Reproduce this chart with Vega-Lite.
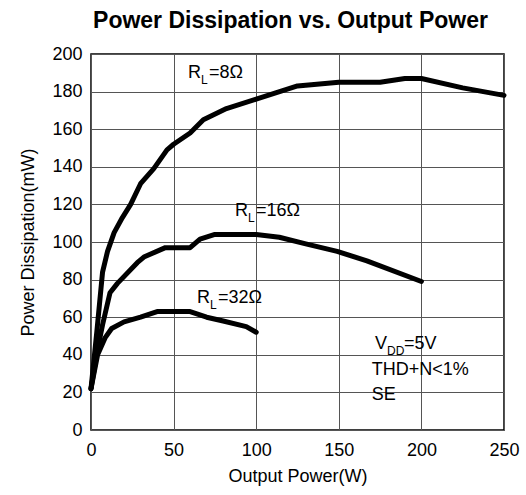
{
  "$schema": "https://vega.github.io/schema/vega-lite/v6.json",
  "width": 413,
  "height": 376,
  "autosize": {"type": "none"},
  "padding": {"left": 91, "top": 54, "right": 22, "bottom": 65},
  "title": {"text": "Power Dissipation vs. Output Power", "font": "Liberation Sans", "fontSize": 23, "fontWeight": "bold", "color": "black", "anchor": "middle", "dx": -7, "offset": 12},
  "config": {
    "view": {"stroke": "black", "strokeWidth": 1.5},
    "axis": {"labelFont": "Liberation Sans", "titleFont": "Liberation Sans", "labelFontSize": 18, "titleFontSize": 18, "titleFontWeight": "normal", "labelColor": "black", "titleColor": "black", "gridColor": "#555555", "domain": false, "ticks": false, "labelFlush": false, "labelOverlap": false, "labelBound": false}
  },
  "datasets": {
    "curves": [
      {"load": "8", "x": 0, "y": 22}, {"load": "8", "x": 3.5, "y": 52}, {"load": "8", "x": 7, "y": 84}, {"load": "8", "x": 10, "y": 95}, {"load": "8", "x": 14, "y": 105}, {"load": "8", "x": 19, "y": 113}, {"load": "8", "x": 24, "y": 120}, {"load": "8", "x": 30, "y": 131}, {"load": "8", "x": 38, "y": 139}, {"load": "8", "x": 46, "y": 149}, {"load": "8", "x": 50, "y": 152}, {"load": "8", "x": 60, "y": 158}, {"load": "8", "x": 68, "y": 165}, {"load": "8", "x": 82, "y": 171}, {"load": "8", "x": 100, "y": 176}, {"load": "8", "x": 125, "y": 183}, {"load": "8", "x": 150, "y": 185}, {"load": "8", "x": 175, "y": 185}, {"load": "8", "x": 190, "y": 187}, {"load": "8", "x": 200, "y": 187}, {"load": "8", "x": 225, "y": 182}, {"load": "8", "x": 250, "y": 178},
      {"load": "16", "x": 0, "y": 22}, {"load": "16", "x": 4, "y": 43}, {"load": "16", "x": 7, "y": 56}, {"load": "16", "x": 11.5, "y": 73}, {"load": "16", "x": 16, "y": 78}, {"load": "16", "x": 28, "y": 89}, {"load": "16", "x": 32, "y": 92}, {"load": "16", "x": 45, "y": 97}, {"load": "16", "x": 60, "y": 97}, {"load": "16", "x": 66, "y": 101.5}, {"load": "16", "x": 75, "y": 104}, {"load": "16", "x": 100, "y": 104}, {"load": "16", "x": 114, "y": 102.5}, {"load": "16", "x": 130, "y": 99}, {"load": "16", "x": 149, "y": 95}, {"load": "16", "x": 167, "y": 90}, {"load": "16", "x": 200, "y": 79},
      {"load": "32", "x": 0, "y": 22}, {"load": "32", "x": 4, "y": 40}, {"load": "32", "x": 8.5, "y": 49}, {"load": "32", "x": 12.5, "y": 54}, {"load": "32", "x": 20, "y": 57.5}, {"load": "32", "x": 30, "y": 60}, {"load": "32", "x": 40, "y": 63}, {"load": "32", "x": 60, "y": 63}, {"load": "32", "x": 70, "y": 60}, {"load": "32", "x": 80, "y": 58}, {"load": "32", "x": 94, "y": 55}, {"load": "32", "x": 100, "y": 52}
    ],
    "rlabels": [
      {"pre": "R", "sub": "L", "post": "=8Ω", "x": 66.6, "y": 190},
      {"pre": "R", "sub": "L", "post": "=16Ω", "x": 95, "y": 116.4},
      {"pre": "R", "sub": "L", "post": "=32Ω", "x": 72, "y": 70}
    ],
    "vdd": [{"pre": "V", "sub": "DD", "post": "=5V", "x": 179.2, "y": 46}],
    "notes": [
      {"text": "THD+N<1%", "x": 170, "y": 31.7},
      {"text": "SE", "x": 170, "y": 18.5}
    ]
  },
  "encoding": {
    "x": {"field": "x", "type": "quantitative", "scale": {"domain": [0, 250], "nice": false}, "axis": {"title": "Output Power(W)", "grid": true, "values": [0, 50, 100, 150, 200, 250], "labelPadding": 11, "titlePadding": 8}},
    "y": {"field": "y", "type": "quantitative", "scale": {"domain": [0, 200], "nice": false}, "axis": {"title": "Power Dissipation(mW)", "grid": true, "values": [0, 20, 40, 60, 80, 100, 120, 140, 160, 180, 200], "labelPadding": 9, "titlePadding": 14}}
  },
  "layer": [
    {
      "data": {"name": "curves"},
      "mark": {"type": "line", "strokeWidth": 5, "strokeJoin": "round", "strokeCap": "round", "color": "black"},
      "encoding": {"detail": {"field": "load"}}
    },
    {
      "data": {"name": "rlabels"},
      "mark": {"type": "text", "align": "right", "baseline": "middle", "font": "Liberation Sans", "fontSize": 18, "color": "black"},
      "encoding": {"text": {"field": "pre"}}
    },
    {
      "data": {"name": "rlabels"},
      "mark": {"type": "text", "align": "left", "baseline": "middle", "dy": 7, "font": "Liberation Sans", "fontSize": 12, "color": "black"},
      "encoding": {"text": {"field": "sub"}}
    },
    {
      "data": {"name": "rlabels"},
      "mark": {"type": "text", "align": "left", "baseline": "middle", "dx": 8, "font": "Liberation Sans", "fontSize": 18, "color": "black"},
      "encoding": {"text": {"field": "post"}}
    },
    {
      "data": {"name": "vdd"},
      "mark": {"type": "text", "align": "right", "baseline": "middle", "font": "Liberation Sans", "fontSize": 18, "color": "black"},
      "encoding": {"text": {"field": "pre"}}
    },
    {
      "data": {"name": "vdd"},
      "mark": {"type": "text", "align": "left", "baseline": "middle", "dy": 7, "font": "Liberation Sans", "fontSize": 12, "color": "black"},
      "encoding": {"text": {"field": "sub"}}
    },
    {
      "data": {"name": "vdd"},
      "mark": {"type": "text", "align": "left", "baseline": "middle", "dx": 17, "font": "Liberation Sans", "fontSize": 18, "color": "black"},
      "encoding": {"text": {"field": "post"}}
    },
    {
      "data": {"name": "notes"},
      "mark": {"type": "text", "align": "left", "baseline": "middle", "font": "Liberation Sans", "fontSize": 18, "color": "black"},
      "encoding": {"text": {"field": "text"}}
    }
  ]
}
